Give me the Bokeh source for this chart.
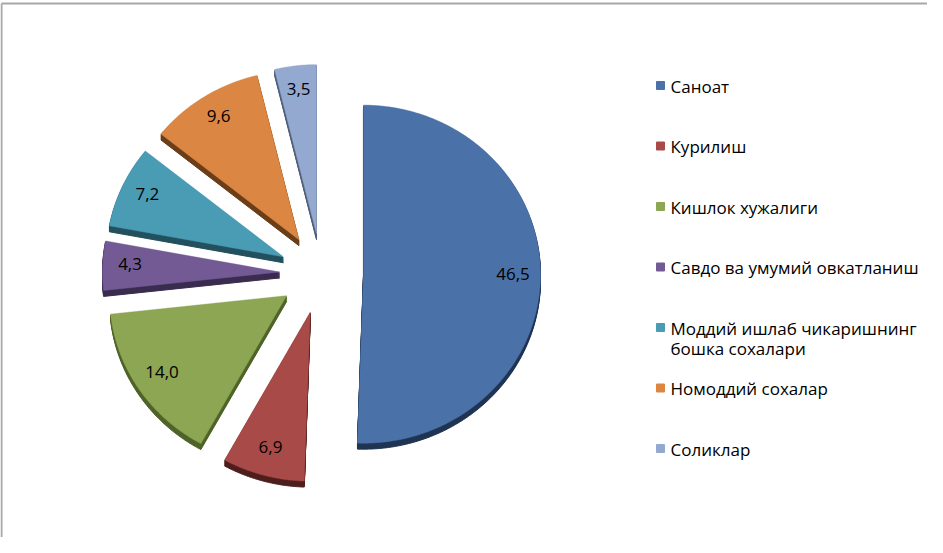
import numpy as np
from bokeh.plotting import figure
from bokeh.models import Range1d
from bokeh.embed import file_html
from bokeh.resources import INLINE
from bokeh.core.properties import value

# ---- data ----
categories = [
    "Саноат",
    "Курилиш",
    "Кишлок хужалиги",
    "Савдо ва умумий овкатланиш",
    "Моддий ишлаб чикаришнинг\nбошка сохалари",
    "Номоддий сохалар",
    "Соликлар",
]
values = [46.5, 6.9, 14.0, 4.3, 7.2, 9.6, 3.5]
colors = ["#4A72A8", "#A84A48", "#8CA653", "#735A95", "#4A9CB4", "#DB8643", "#93A9D0"]
side_colors = ["#1F3352", "#4E1E1D", "#4F6329", "#3A2C4F", "#22505E", "#6B3E18", "#4F5E7A"]

# ---- layout (pixels) ----
W, H = 927, 537
cx, cy = 321, 273      # pie centre
rx, ry = 177, 169      # ellipse radii of the top face
explode = 42
depth = 6
label_r = 0.845

p = figure(width=W, height=H, output_backend="svg", toolbar_location=None,
           x_range=Range1d(0, W), y_range=Range1d(H, 0),
           min_border=0, outline_line_color=None)
p.axis.visible = False
p.grid.visible = False
p.background_fill_color = "white"
p.border_fill_color = "white"

total = sum(values)
fracs = np.array(values) / total
starts = np.concatenate([[0], np.cumsum(fracs)[:-1]]) * 2 * np.pi
ends = np.cumsum(fracs) * 2 * np.pi

tops_x, tops_y = [], []
sides_x, sides_y, sides_c = [], [], []
lab_x, lab_y, lab_t = [], [], []
for i, (a0, a1) in enumerate(zip(starts, ends)):
    mid = 0.5 * (a0 + a1)
    ax = cx + explode * np.sin(mid)
    ay = cy - explode * 0.955 * np.cos(mid)
    n = max(3, int(np.degrees(a1 - a0)) * 2)
    th = np.linspace(a0, a1, n)
    xs = np.concatenate([[ax], ax + rx * np.sin(th)])
    ys = np.concatenate([[ay], ay - ry * np.cos(th)])
    tops_x.append(list(xs))
    tops_y.append(list(ys))
    for k in range(1, depth + 1):
        sides_x.append(list(xs))
        sides_y.append(list(ys + k))
        sides_c.append(side_colors[i])
    lab_x.append(ax + label_r * rx * np.sin(mid))
    lab_y.append(ay - label_r * ry * np.cos(mid) - 3)
    lab_t.append(f"{values[i]:.1f}".replace(".", ","))

p.patches(xs=sides_x, ys=sides_y, fill_color=sides_c, line_color=sides_c, line_width=1)
p.patches(xs=tops_x, ys=tops_y, fill_color=colors, line_color=colors, line_width=0.5)

p.text(x=lab_x, y=lab_y, text=lab_t, text_font=value("Open Sans"),
       text_font_size="17px", text_color="black",
       text_align="center", text_baseline="middle")

# ---- legend ----
leg_y = [85 + 60.5 * i for i in range(len(categories))]
p.scatter(x=[660] * len(categories), y=leg_y, marker="square", size=8,
          fill_color=colors, line_color=colors)
p.text(x=[670] * len(categories), y=[y - 11 for y in leg_y], text=categories,
       text_font=value("Open Sans"), text_font_size="17px", text_color="black",
       text_align="left", text_baseline="top", text_line_height=0.9)

# ---- chart border (top & left) ----
p.line(x=[1, W], y=[3, 3], line_color="#a8a8a8", line_width=2)
p.line(x=[1, 1], y=[3, H], line_color="#a8a8a8", line_width=2)

open("out.html", "w").write(file_html(p, INLINE))
